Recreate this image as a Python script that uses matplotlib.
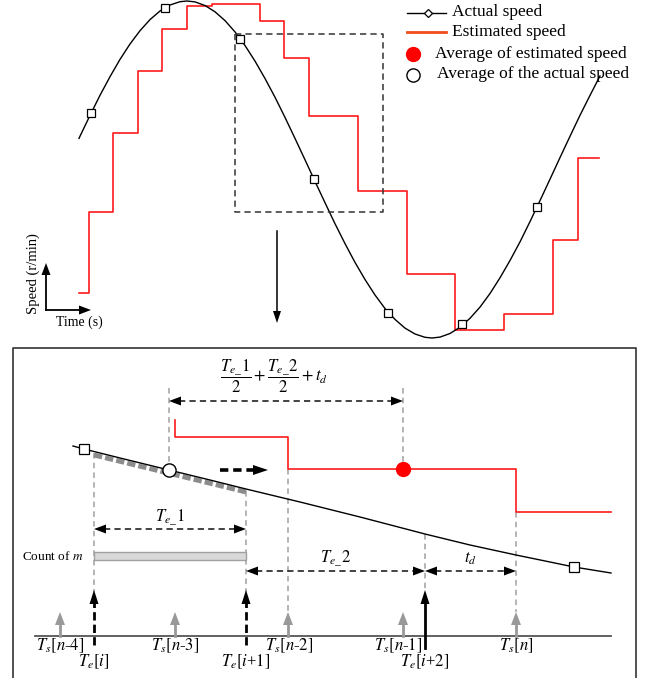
import matplotlib
matplotlib.use("Agg")
import matplotlib.pyplot as plt
from matplotlib.patches import Polygon, Rectangle

plt.rcParams['font.family'] = 'serif'
plt.rcParams['font.serif'] = ['Liberation Serif', 'DejaVu Serif']
plt.rcParams['mathtext.fontset'] = 'stix'
plt.rcParams['lines.scale_dashes'] = False

# ---- top panel data (pixel units of the drawing) ----
actual_x = [79, 80, 90, 100, 110, 120, 130, 140, 150, 160, 170, 180, 187, 195, 205, 215, 225,
            235, 245, 255, 265, 275, 285, 295, 305, 315, 325, 335, 345, 355, 365, 375, 385,
            395, 405, 415, 425, 432, 440, 450, 460, 470, 480, 490, 500, 510, 520, 530, 540,
            550, 560, 570, 580, 590, 600]
actual_y = [138.4, 136.2, 115.4, 95.3, 76.7, 59.4, 44.0, 30.7, 19.6, 11.0, 5.0, 1.7, 1.0, 1.9,
            5.5, 11.8, 20.6, 31.9, 45.5, 61.1, 78.5, 97.2, 117.4, 138.4, 159.8, 181.4, 202.7,
            223.7, 243.6, 262.4, 279.5, 295.0, 308.5, 319.4, 328.1, 334.0, 337.3, 338.0, 337.1,
            333.5, 327.2, 318.3, 307.1, 293.5, 277.8, 260.5, 241.9, 221.6, 200.6, 179.2, 157.6,
            136.3, 115.3, 95.4, 76.0]
sample_x = [91, 165, 240, 314, 388, 462, 537]
sample_y = [113, 8, 39, 179, 313, 324, 207]
est_edges = [79, 89, 113, 138, 162, 187, 212, 260, 284, 309, 358, 407, 455, 504, 553, 578, 599]
est_levels = [293, 212, 133, 71, 29, 6, 4, 21, 58, 116, 191, 274, 330, 314, 240, 158]
zoom_box = (235, 34, 383, 212)

legend_labels = ["Actual speed", "Estimated speed",
                 "Average of estimated speed", "Average of the actual speed"]

# ---- bottom panel data ----
detail_x = [73, 84, 120, 169, 210, 246, 300, 360, 425, 470, 516, 550, 574, 611]
detail_y = [446, 449, 458, 470, 480, 489, 502, 517, 534, 545, 555, 562, 567, 573]
detail_sq_x = [84, 574]
detail_sq_y = [449, 567]
detail_est_x = [175, 175, 288, 516, 611]
detail_est_y = [420, 437, 469, 512, 512]
ts_x = [60, 175, 288, 403, 516]
ts_labels = [r"$T_s[n$-$4]$", r"$T_s[n$-$3]$", r"$T_s[n$-$2]$", r"$T_s[n$-$1]$", r"$T_s[n]$"]
ts_label_x = [60, 175, 289, 398, 516]
te_x = [94, 246, 425]
te_labels = [r"$T_e[i]$", r"$T_e[i$+$1]$", r"$T_e[i$+$2]$"]

RED = '#ff1a1a'
GREY = '#a8a8a8'


def head(ax, tip, d, length=11, width=8, color='k'):
    x, y = tip
    dx, dy = d
    bx, by = x - dx * length, y - dy * length
    px, py = -dy, dx
    pts = [(x, y), (bx + px * width / 2, by + py * width / 2),
           (bx - px * width / 2, by - py * width / 2)]
    ax.add_patch(Polygon(pts, closed=True, facecolor=color, edgecolor='none', zorder=6))


def dim_arrow(ax, x0, x1, y, label=None, ly=None, lx=None):
    ax.plot([x0 + 10, x1 - 10], [y, y], color='#222', lw=1.2, dashes=(4.5, 3))
    head(ax, (x0, y), (-1, 0), 12, 9)
    head(ax, (x1, y), (1, 0), 12, 9)
    if label:
        ax.text((x0 + x1) / 2 if lx is None else lx, ly, label, ha='center', va='center', fontsize=12)


fig = plt.figure(figsize=(6.51, 6.78), dpi=100)
ax = fig.add_axes([0, 0, 1, 1])
ax.set_xlim(0, 651)
ax.set_ylim(678, 0)
ax.axis('off')

# ---- top panel ----
ax.step(est_edges, est_levels + [est_levels[-1]], where='post', color=RED, lw=1.2)
ax.plot(actual_x, actual_y, color='k', lw=1.0)
ax.plot(sample_x, sample_y, ls='none', marker='s', ms=5.5, mfc='white', mec='k', mew=0.9)
x0, y0, x1, y1 = zoom_box
ax.plot([x0, x1, x1, x0, x0], [y0, y0, y1, y1, y0], color='#333', lw=1.1, dashes=(4.5, 3))

# down arrow
ax.plot([277, 277], [231, 312], color='k', lw=1.1)
head(ax, (277, 323), (0, 1), 12, 8)

# axis icon
ax.plot([46, 46], [310, 270], color='k', lw=1.3)
ax.plot([46, 82], [310, 310], color='k', lw=1.3)
head(ax, (46, 263), (0, -1), 12, 9)
head(ax, (91, 310), (1, 0), 12, 9)
ax.text(33, 274, "Speed (r/min)", rotation=90, ha='center', va='center', fontsize=10.5)
ax.text(79, 322, "Time (s)", ha='center', va='center', fontsize=10)

# legend
ax.plot([407, 446], [13, 13], color='k', lw=1.0)
ax.plot([428], [13], marker='D', ms=4, mfc='white', mec='k', mew=0.9)
ax.plot([407, 446], [32, 32], color='#f24b1d', lw=2)
ax.plot([413], [54], 'o', ms=10, mfc='#ff0000', mec='#ff0000')
ax.plot([413], [75], 'o', ms=9.5, mfc='white', mec='k', mew=1)
ax.text(452, 12, legend_labels[0], va='center', fontsize=12.5)
ax.text(452, 32, legend_labels[1], va='center', fontsize=12.5)
ax.text(435, 54, legend_labels[2], va='center', fontsize=12.5)
ax.text(437, 74, legend_labels[3], va='center', fontsize=12.5)

# ---- bottom panel ----
ax.plot([13, 13, 636, 636], [678, 348, 348, 678], color='#333', lw=1.2)

# grey dashed guides
for gx, ya, yb in [(169, 388, 464), (403, 388, 463), (94, 453, 592), (246, 491, 592),
                   (288, 469, 612), (425, 534, 592), (516, 512, 612)]:
    ax.plot([gx, gx], [ya, yb], color=GREY, lw=1.2, dashes=(4, 3), zorder=1)

ax.step(detail_est_x, detail_est_y, where='post', color=RED, lw=1.2)
ax.plot([94, 246], [455, 492], color='#8c8c8c', lw=3.5, dashes=(6, 2.2), zorder=2)
ax.plot(detail_x, detail_y, color='k', lw=1.0, zorder=3)
ax.plot(detail_sq_x, detail_sq_y, ls='none', marker='s', ms=6.5, mfc='white', mec='k', mew=0.9, zorder=4)
ax.plot([169], [470], 'o', ms=9.5, mfc='white', mec='k', mew=1, zorder=5)
ax.plot([403], [469], 'o', ms=10, mfc='#ff0000', mec='#ff0000', zorder=5)

# thick dashed direction arrow
ax.plot([220, 255], [470, 470], color='k', lw=2.6, dashes=(6, 3.5))
head(ax, (268, 470), (1, 0), 15, 10)

# dimension arrows
dim_arrow(ax, 169, 403, 401)
ax.text(274, 376, r"$\dfrac{T_{e\_}1}{2}+\dfrac{T_{e\_}2}{2}+t_d$", ha='center', va='center', fontsize=12)
dim_arrow(ax, 94, 246, 529, r"$T_{e\_}1$", 518)
dim_arrow(ax, 246, 425, 571, r"$T_{e\_}2$", 559, 335)
dim_arrow(ax, 425, 516, 571, r"$t_d$", 559, 470)

# count of m bar
ax.add_patch(Rectangle((94, 552), 152, 8, facecolor='#d9d9d9', edgecolor='#a0a0a0', lw=1))
ax.text(22, 556, r"Count of $m$", va='center', fontsize=9.5)

# time axis
ax.plot([35, 611], [636, 636], color='#555', lw=1.3)
for tx in ts_x:
    ax.plot([tx, tx], [636, 622], color='#999', lw=2)
    head(ax, (tx, 612), (0, -1), 13, 10, '#999')
for tx, lab in zip(ts_label_x, ts_labels):
    ax.text(tx, 646, lab, ha='center', va='center', fontsize=12)

for tx, lab in zip(te_x, te_labels):
    if tx == 425:
        ax.plot([tx, tx], [648, 600], color='k', lw=2)
    else:
        ax.plot([tx, tx], [645, 600], color='k', lw=2, dashes=(6, 3))
    head(ax, (tx, 590), (0, -1), 14, 9)
    ax.text(tx, 662, lab, ha='center', va='center', fontsize=12)

fig.savefig("out.png", dpi=100)
